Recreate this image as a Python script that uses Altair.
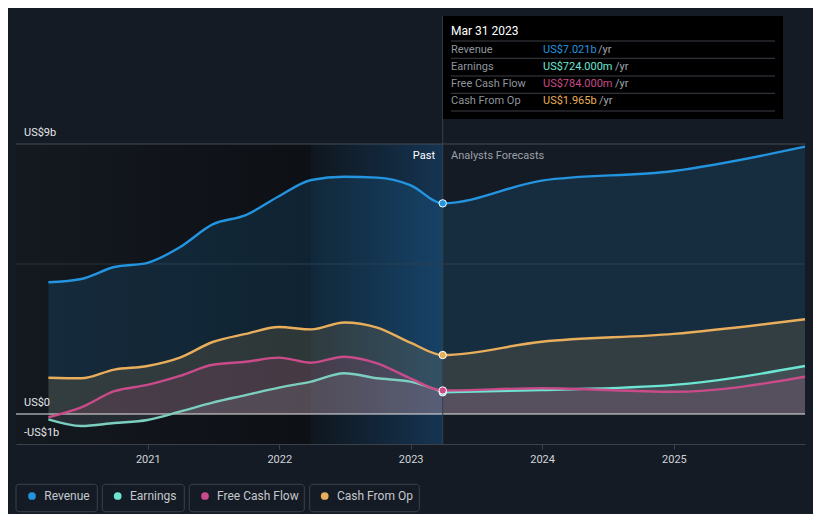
import altair as alt
import pandas as pd

FONT = "Roboto"
BG = "#151b24"

# ---------------- data ----------------
series = ["Revenue", "Earnings", "Free Cash Flow", "Cash From Op"]
colors = ["#2394df", "#6ce5d2", "#c94b8a", "#e9ae5b"]

dates = ["2020-03-31", "2020-06-30", "2020-09-30", "2020-12-31",
         "2021-03-31", "2021-06-30", "2021-09-30", "2021-12-31",
         "2022-03-31", "2022-06-30", "2022-09-30", "2022-12-31",
         "2023-03-31", "2023-12-31", "2024-12-31", "2025-12-31"]
revenue = [4.39, 4.50, 4.90, 5.04, 5.56, 6.32, 6.63, 7.26, 7.80, 7.91, 7.88, 7.63,
           7.021, 7.78, 8.10, 8.91]
earnings = [-0.18, -0.40, -0.30, -0.20, 0.08, 0.38, 0.63, 0.88, 1.08, 1.36, 1.19, 1.08,
            0.724, 0.80, 0.97, 1.60]
fcf = [-0.11, 0.22, 0.76, 0.97, 1.27, 1.64, 1.74, 1.88, 1.71, 1.91, 1.69, 1.19,
       0.784, 0.86, 0.74, 1.24]
cfo = [1.21, 1.19, 1.48, 1.60, 1.88, 2.40, 2.67, 2.90, 2.82, 3.05, 2.88, 2.38,
       1.965, 2.41, 2.67, 3.16]
last_actual = "2023-03-31"

tip_date = "Mar 31 2023"
tip_values = ["US$7.021b", "US$724.000m", "US$784.000m", "US$1.965b"]
y_tick_values = [9, 0, -1]
y_tick_labels = ["US$9b", "US$0", "-US$1b"]
year_ticks = [2021, 2022, 2023, 2024, 2025]

# ---------------- table ----------------
rows = []
for s, vals in zip(series, [revenue, earnings, fcf, cfo]):
    for d, v in zip(dates, vals):
        rows.append({"date": d + "T00:00:00", "series": s, "value": v,
                     "last": d == last_actual, "past": d <= last_actual,
                     "future": d >= last_actual})
df = pd.DataFrame(rows)

W, H = 789, 300

xscale = alt.Scale(domain=[alt.DateTime(year=2020, month=1, date=1),
                           alt.DateTime(year=2025, month=12, date=31)])
yscale = alt.Scale(domain=[-1, 9], nice=False)

XAXIS = alt.Axis(values=[alt.DateTime(year=y, month=1, date=1) for y in year_ticks],
                 format="%Y", grid=False, domainColor="#3c424b", tickColor="#3c424b",
                 tickSize=5, labelColor="#d0d4da", labelFontSize=11, labelFont=FONT,
                 labelPadding=4, title=None, domainWidth=1)


def xenc(field):
    return alt.X(field + ":T", scale=xscale, axis=XAXIS, title=None)


def yenc(field):
    return alt.Y(field + ":Q", scale=yscale, axis=None, stack=None, title=None)


def txt(s, x, y, color, size=11, align="left", weight="normal"):
    return alt.Chart(pd.DataFrame({"t": [s]})).mark_text(
        align=align, baseline="middle", fontSize=size, font=FONT,
        color=color, fontWeight=weight
    ).encode(x=alt.value(x), y=alt.value(y), text="t:N")


def box(x1, x2, y1, y2, fill, stroke=None, radius=0):
    kw = dict(color=fill, cornerRadius=radius)
    if stroke:
        kw.update(stroke=stroke, strokeWidth=1)
    return alt.Chart(pd.DataFrame({"a": [0]})).mark_rect(**kw).encode(
        x=alt.value(x1), x2=alt.value(x2), y=alt.value(y1), y2=alt.value(y2))


layers = []

# background regions
reg_left = pd.DataFrame({"s": ["2020-01-01T00:00:00"], "e": ["2022-03-31T00:00:00"]})
reg_hi = pd.DataFrame({"s": ["2022-03-31T00:00:00"], "e": ["2023-03-31T00:00:00"]})
layers.append(alt.Chart(reg_left).mark_rect(color=alt.Gradient(
    gradient="linear",
    stops=[alt.GradientStop(color="#141920", offset=0),
           alt.GradientStop(color="#0d1015", offset=1)],
    x1=0, x2=1, y1=0, y2=0)).encode(
    x=xenc("s"), x2="e:T", y=alt.value(0), y2=alt.value(H)))
layers.append(alt.Chart(reg_hi).mark_rect(color=alt.Gradient(
    gradient="linear",
    stops=[alt.GradientStop(color="#0f161e", offset=0),
           alt.GradientStop(color="#153452", offset=1)],
    x1=0, x2=1, y1=0, y2=0)).encode(
    x=xenc("s"), x2="e:T", y=alt.value(0), y2=alt.value(H)))

# gridlines
layers.append(alt.Chart(pd.DataFrame({"v": [9]})).mark_rule(color="#454c56", strokeWidth=1).encode(
    y=yenc("v"), x=alt.value(0), x2=alt.value(W)))
layers.append(alt.Chart(pd.DataFrame({"v": [5]})).mark_rule(color="#2b323c", strokeWidth=1).encode(
    y=yenc("v"), x=alt.value(0), x2=alt.value(W)))

# areas
cmap = dict(zip(series, colors))
area_style = {"Revenue": ("#2394df", 0.15), "Cash From Op": ("#e9ae5b", 0.14),
              "Free Cash Flow": ("#c94b8a", 0.15), "Earnings": ("#b8c4d0", 0.12)}
for s in ["Revenue", "Cash From Op", "Free Cash Flow", "Earnings"]:
    c, op = area_style[s]
    layers.append(alt.Chart(df).transform_filter(alt.datum.series == s).mark_area(
        interpolate="monotone", color=c, opacity=op).encode(
        x=xenc("date"), y=yenc("value"), y2=alt.datum(0)))

# zero line
layers.append(alt.Chart(pd.DataFrame({"v": [0]})).mark_rule(color="#e8e8e8", strokeWidth=1).encode(
    y=yenc("v"), x=alt.value(0), x2=alt.value(W)))

# vertical "now" line
layers.append(alt.Chart(pd.DataFrame({"d": [last_actual + "T00:00:00"]})).mark_rule(
    color="#34404e", strokeWidth=1).encode(x=xenc("d"), y=alt.value(-128), y2=alt.value(H)))

# lines
for s in ["Revenue", "Cash From Op"]:
    layers.append(alt.Chart(df).transform_filter(alt.datum.series == s).mark_line(
        interpolate="monotone", color=cmap[s], strokeWidth=2.4).encode(
        x=xenc("date"), y=yenc("value")))
# earnings: muted in the past, bright in the forecast
layers.append(alt.Chart(df).transform_filter(
    (alt.datum.series == "Earnings") & alt.datum.past).mark_line(
    interpolate="monotone", color="#7ccfbf", strokeWidth=2.4).encode(
    x=xenc("date"), y=yenc("value")))
layers.append(alt.Chart(df).transform_filter(
    (alt.datum.series == "Earnings") & alt.datum.future).mark_line(
    interpolate="monotone", color=cmap["Earnings"], strokeWidth=2.4).encode(
    x=xenc("date"), y=yenc("value")))
layers.append(alt.Chart(df).transform_filter(alt.datum.series == "Free Cash Flow").mark_line(
    interpolate="monotone", color=cmap["Free Cash Flow"], strokeWidth=2.4).encode(
    x=xenc("date"), y=yenc("value")))

# points at last actual
for s in ["Revenue", "Cash From Op", "Earnings", "Free Cash Flow"]:
    layers.append(alt.Chart(df).transform_filter(
        (alt.datum.series == s) & alt.datum.last).mark_point(
        filled=True, size=55, color=cmap[s], stroke="#ffffff", strokeWidth=1, opacity=1).encode(
        x=xenc("date"), y=yenc("value")))

# y labels
ylab = pd.DataFrame({"v": y_tick_values, "t": y_tick_labels})
layers.append(alt.Chart(ylab).mark_text(align="left", baseline="middle", dy=-11, fontSize=11,
                                        font=FONT, color="#e4e6ea").encode(
    x=alt.value(8), y=yenc("v"), text="t:N"))

# Past / Forecast labels
layers.append(txt("Past", 419, 12, "#ffffff", align="right"))
layers.append(txt("Analysts Forecasts", 435, 12, "#9aa0a8"))

# tooltip box
layers.append(box(427, 767, -128, -25, "#000000"))
layers.append(txt(tip_date, 435, -113, "#ffffff", size=12))
for yy in [-103, -85.7, -68, -50.7, -33]:
    layers.append(alt.Chart(pd.DataFrame({"a": [0]})).mark_rule(color="#3a3f46", strokeWidth=1).encode(
        x=alt.value(435), x2=alt.value(759), y=alt.value(yy)))
row_y = [-94.5, -77.5, -60, -43]
unit_x = [582, 599, 599, 583]
for s, c, v, yy, ux in zip(series, colors, tip_values, row_y, unit_x):
    layers.append(txt(s, 435, yy, "#8f959d"))
    layers.append(txt(v, 527, yy, c))
    layers.append(txt("/yr", ux, yy, "#a0a6ae"))

# legend
box_x = [(0, 81.3), (86.3, 168.3), (173.3, 288.3), (293.7, 403.3)]
dot_x = [16, 101.7, 189, 308.7]
lab_x = [28.3, 114, 201, 321]
for s, c, (bx1, bx2), dx, lx in zip(series, colors, box_x, dot_x, lab_x):
    layers.append(box(bx1, bx2, 340.3, 367.7, BG, stroke="#3b4149", radius=3))
    layers.append(alt.Chart(pd.DataFrame({"a": [0]})).mark_point(
        filled=True, size=60, color=c, opacity=1).encode(x=alt.value(dx), y=alt.value(352)))
    layers.append(txt(s, lx, 352, "#c4c8ce", size=12))

chart = alt.layer(*layers).properties(
    width=W, height=H,
    autosize=alt.AutoSizeParams(type="none"),
    padding={"left": 8, "top": 136, "right": 8, "bottom": 70},
    background=BG,
    usermeta={"embedOptions": {"defaultStyle": "html, body { background: #151b24 !important; }"}},
).configure_view(stroke=None)

chart.save("out.html", embed_options={"renderer": "svg", "actions": False})
